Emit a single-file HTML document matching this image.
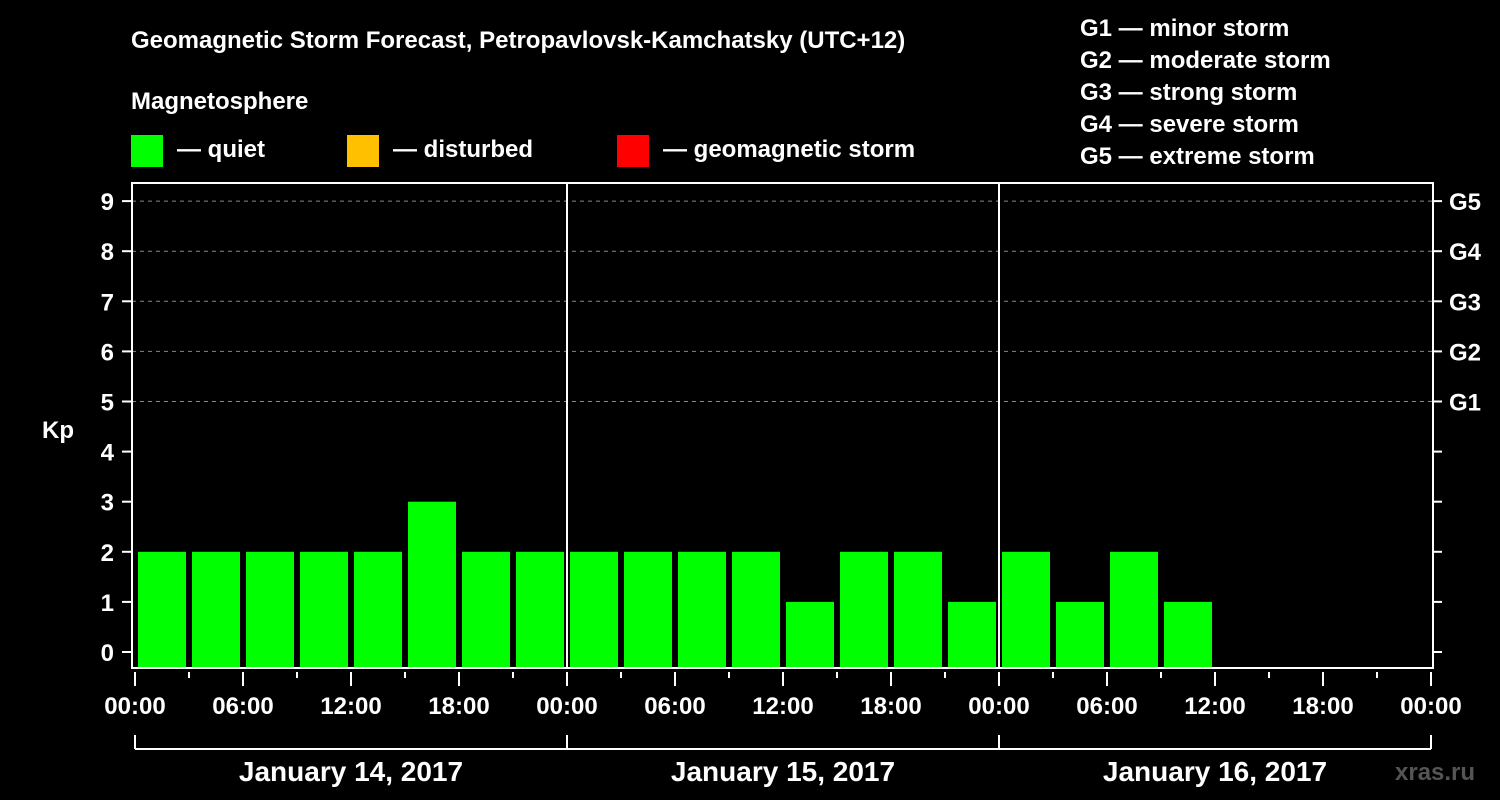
<!DOCTYPE html>
<html><head><meta charset="utf-8"><style>
body{margin:0;background:#000;}
svg{display:block;font-family:"Liberation Sans",Arial,sans-serif;font-weight:bold;}
</style></head><body>
<svg id="c" width="1500" height="800" viewBox="0 0 1500 800">
<rect width="1500" height="800" fill="#000"/>
<text x="131" y="48" fill="#fff" font-size="24">Geomagnetic Storm Forecast, Petropavlovsk-Kamchatsky (UTC+12)</text>
<g fill="#fff" font-size="24">
<text x="1080" y="36">G1 — minor storm</text>
<text x="1080" y="68">G2 — moderate storm</text>
<text x="1080" y="100">G3 — strong storm</text>
<text x="1080" y="132">G4 — severe storm</text>
<text x="1080" y="164">G5 — extreme storm</text>
</g>
<text x="131" y="109" fill="#fff" font-size="24">Magnetosphere</text>
<g><rect x="131" y="135" width="32" height="32" fill="#00ff00"/><text x="177" y="157" fill="#fff" font-size="24">— quiet</text></g>
<g><rect x="347" y="135" width="32" height="32" fill="#ffc000"/><text x="393" y="157" fill="#fff" font-size="24">— disturbed</text></g>
<g><rect x="617" y="135" width="32" height="32" fill="#ff0000"/><text x="663" y="157" fill="#fff" font-size="24">— geomagnetic storm</text></g>
<text x="42" y="438" fill="#fff" font-size="24">Kp</text>
<g id="grid"></g><g id="bars"></g><g id="axes"></g>
<text x="1395" y="780" fill="#555" font-size="24">xras.ru</text>
</svg>
<script>
const kpValues=[2,2,2,2,2,3,2,2, 2,2,2,2,1,2,2,1, 2,1,2,1];
const dayLabels=["January 14, 2017","January 15, 2017","January 16, 2017"];
const hourLabels=["00:00","06:00","12:00","18:00"];
const gLabels=["G1","G2","G3","G4","G5"];
const NS="http://www.w3.org/2000/svg";
const x0=135,pxPerHour=18,y0=652,pxPerKp=50.1;
const X=h=>x0+h*pxPerHour, Y=k=>y0-k*pxPerKp;
function mk(t,a,p){const e=document.createElementNS(NS,t);for(const k in a)e.setAttribute(k,a[k]);p.appendChild(e);return e;}
const grid=document.getElementById('grid'),bars=document.getElementById('bars'),axes=document.getElementById('axes');
for(let k=5;k<=9;k++){const l=mk('line',{x1:132,x2:1433,y1:Y(k),y2:Y(k),stroke:'#888','stroke-dasharray':'4 4','stroke-width':1},grid);

}
kpValues.forEach((v,i)=>{const y=Y(v);const r=mk('rect',{x:X(i*3)+3,y:y,width:48,height:668-y,fill:v>=5?'#ff0000':(v>=4?'#ffc000':'#00ff00')},bars);

});
mk('rect',{x:132,y:183,width:1301,height:485,fill:'none',stroke:'#fff','stroke-width':2},axes);
for(let d=1;d<3;d++)mk('line',{x1:X(d*24),x2:X(d*24),y1:183,y2:668,stroke:'#fff','stroke-width':2},axes);
for(let k=0;k<=9;k++){mk('line',{x1:122,x2:131,y1:Y(k),y2:Y(k),stroke:'#fff','stroke-width':2},axes);
mk('line',{x1:1434,x2:1442,y1:Y(k),y2:Y(k),stroke:'#fff','stroke-width':2},axes);
const t=mk('text',{x:114,y:Y(k)+9,fill:'#fff','font-size':24,'text-anchor':'end'},axes);t.textContent=k;

}
gLabels.forEach((g,i)=>{const t=mk('text',{x:1449,y:Y(5+i)+9,fill:'#fff','font-size':24},axes);t.textContent=g;

});
for(let h=0;h<=72;h+=3){const maj=h%6===0;mk('line',{x1:X(h),x2:X(h),y1:672,y2:maj?686:678,stroke:'#fff','stroke-width':2},axes);
if(maj){const t=mk('text',{x:X(h),y:714,fill:'#fff','font-size':24,'text-anchor':'middle'},axes);t.textContent=hourLabels[(h/6)%4];

}}
mk('line',{x1:X(0),x2:X(72),y1:749,y2:749,stroke:'#fff','stroke-width':2},axes);
for(let d=0;d<=3;d++)mk('line',{x1:X(d*24),x2:X(d*24),y1:735,y2:749,stroke:'#fff','stroke-width':2},axes);
dayLabels.forEach((s,d)=>{const t=mk('text',{x:X(d*24+12),y:781,fill:'#fff','font-size':28,'text-anchor':'middle'},axes);t.textContent=s;

});
</script>
</body></html>
